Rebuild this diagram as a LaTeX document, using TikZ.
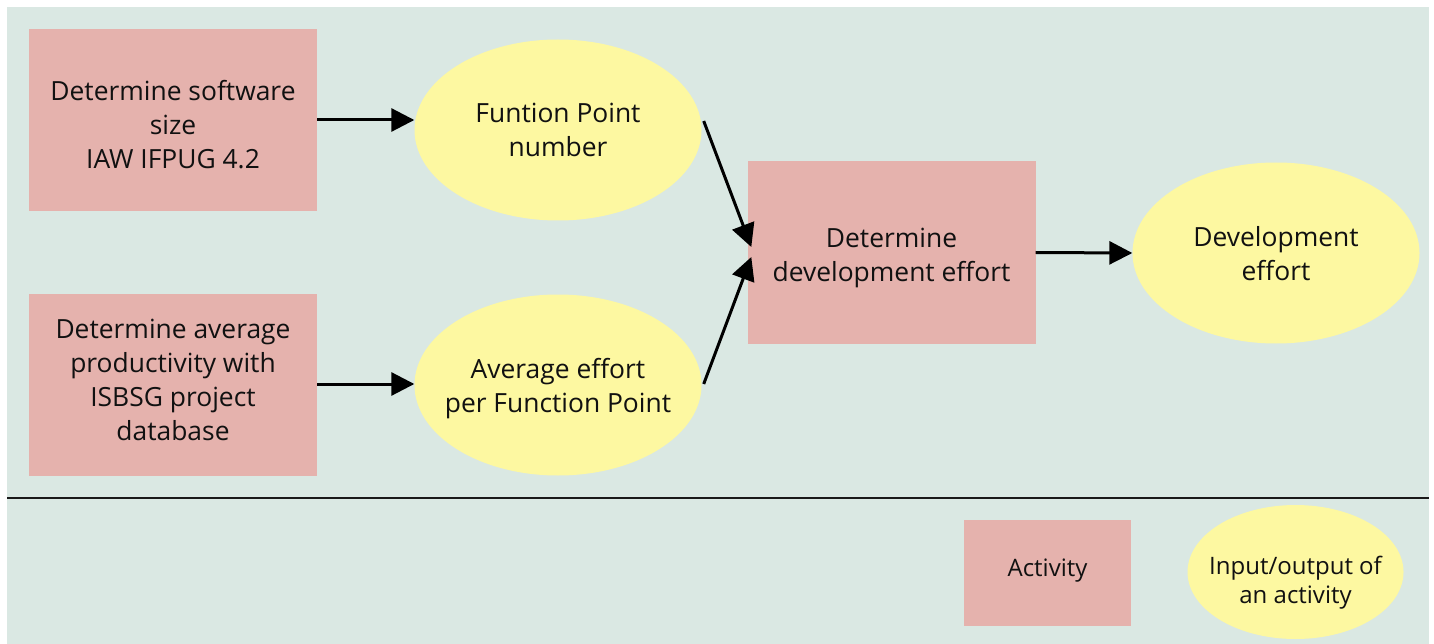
\documentclass[tikz,border=0pt]{standalone}
\usepackage{fontspec}
\setmainfont{Open Sans}
\usetikzlibrary{shapes.geometric,arrows.meta}
\definecolor{bgc}{HTML}{DAE8E3}
\definecolor{actc}{HTML}{E5B2AD}
\definecolor{ioc}{HTML}{FDF8A1}
\definecolor{txtc}{HTML}{111111}
\tikzset{
  every node/.style={font=\fontsize{26.4}{34}\selectfont, text=txtc, align=center, inner sep=0pt},
  legendfont/.style={font=\fontsize{24}{29}\selectfont},
  activity/.style={rectangle, fill=actc, minimum width=288pt, minimum height=182pt},
  io/.style={ellipse, fill=ioc, minimum width=287pt, minimum height=181pt},
  flow/.style={line width=3pt, -{Triangle[length=23pt,width=23pt]}},
}
\begin{document}
\begin{tikzpicture}[x=1pt,y=-1pt]
\useasboundingbox (0,0) rectangle (1434,644);
\fill[bgc] (7,7) rectangle (1429,644);
\draw[line width=1.2pt, black!90] (7,498) -- (1429,498);

\node[activity, label={[yshift=-4.5pt]center:Determine software\\size\\IAW IFPUG 4.2}] (b1) at (173,120) {};
\node[activity, label={[yshift=5pt]center:Determine average\\productivity with\\ISBSG project\\database}] (b2) at (173,384.5) {};
\node[io, label={[yshift=0pt]center:Funtion Point\\number}] (e1) at (558,130) {};
\node[io, label={[yshift=-4pt]center:Average effort\\per Function Point}] (e2) at (558,385) {};
\node[activity, label={[yshift=-5pt]center:Determine\\development effort}] (b3) at (891.5,252.5) {};
\node[io, label={[yshift=-1pt]center:Development\\effort}] (e3) at (1276,253) {};

\node[activity, minimum width=167pt, minimum height=106pt, label={[legendfont, yshift=2pt]center:Activity}] (l1) at (1047.5,573) {};
\node[io, minimum width=216pt, minimum height=134pt, label={[legendfont, yshift=-11pt]center:Input/output of\\an activity}] (l2) at (1295.5,572) {};

\draw[flow] (b1.east |- 0,120) -- (e1.west |- 0,120);
\draw[flow] (b2.east |- 0,384) -- (e2.west |- 0,384);
\draw[flow] (b3.east) -- (e3.west);
\draw[flow] ([xshift=2pt,yshift=9pt]e1.east) -- ([xshift=4pt,yshift=5.5pt]b3.west);
\draw[flow] ([xshift=2pt,yshift=1pt]e2.east) -- ([xshift=4pt,yshift=-4.5pt]b3.west);
\end{tikzpicture}
\end{document}
